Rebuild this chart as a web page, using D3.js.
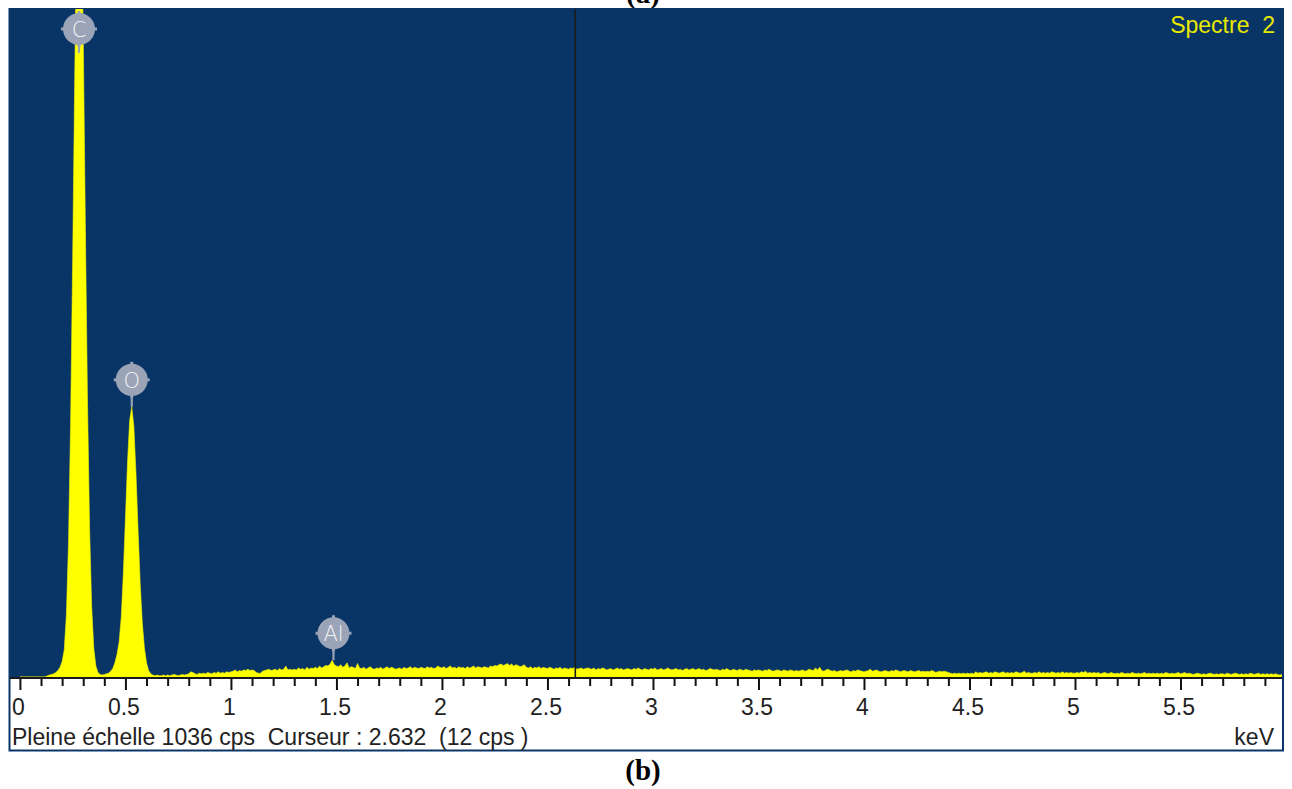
<!DOCTYPE html>
<html>
<head>
<meta charset="utf-8">
<script src="https://cdn.jsdelivr.net/npm/d3@7"></script>
<style>
  html, body { margin: 0; padding: 0; background: #ffffff; }
  svg { display: block; }
  text { white-space: pre; }
</style>
</head>
<body>
<svg id="chart" width="1292" height="789"></svg>
<script>
// EDS spectrum, 10 eV channels starting at 0 keV (counts per second)
const channelWidth = 0.01;
const counts = [
  0,0,0,0,0,0,0,0,0,0,
  0,0,0,2,3,4,5,7,10,15,
  24,42,95,205,390,650,940,1180,1290,1215,
  995,705,435,232,110,45,17,7,4,3,
  4,5,6,9,13,22,35,54,92,160,
  246,334,398,419,388,316,228,145,84,45,
  22,10,5,3,2,3,2,2,3,2,
  3,2,3,4,3,2,3,4,3,4,
  5,8,7,5,4,6,5,6,5,7,
  6,5,7,6,8,6,7,6,8,7,
  8,9,11,8,10,9,11,10,12,10,
  11,10,7,6,6,9,10,11,12,10,
  11,12,10,13,11,12,17,11,12,11,
  12,11,14,12,13,11,15,12,14,13,
  15,13,17,14,16,18,17,20,26,19,
  17,16,19,15,17,22,14,16,15,13,
  21,14,13,15,12,14,16,13,12,14,
  13,15,12,14,16,13,15,14,12,13,
  14,12,15,13,14,16,13,15,14,13,
  15,14,13,16,14,15,13,14,17,15,
  14,16,13,15,17,14,15,13,16,14,
  15,13,16,14,15,17,14,16,15,14,
  16,15,14,17,16,18,17,19,20,18,
  19,21,18,20,17,19,18,16,17,19,
  15,14,16,13,15,14,16,13,15,14,
  13,15,14,12,14,13,15,12,14,13,
  12,14,13,15,12,13,14,12,13,14,
  13,12,14,11,13,12,14,13,11,12,
  13,11,12,14,12,13,11,12,13,12,
  11,13,12,14,12,11,13,12,11,13,
  12,14,11,12,13,11,12,14,12,11,
  12,13,11,12,10,12,13,11,12,13,
  11,12,13,11,12,10,11,13,12,11,
  12,11,10,12,11,13,11,10,12,11,
  10,12,11,10,12,11,10,9,11,10,
  11,10,9,11,10,12,10,9,10,11,
  10,9,11,10,9,11,10,9,10,9,
  10,11,9,10,12,11,10,14,11,15,
  10,9,11,12,10,9,10,8,9,10,
  9,10,11,9,8,10,9,11,10,9,
  8,9,10,12,9,10,11,9,8,9,
  10,9,8,10,9,11,10,8,9,10,
  9,8,10,9,8,9,10,8,9,8,
  9,8,10,9,7,8,9,8,9,8,
  7,6,5,6,5,6,5,6,5,6,
  5,6,5,8,6,7,6,7,8,6,
  7,6,8,7,6,7,8,6,7,6,
  7,6,8,7,6,7,9,6,7,6,
  6,7,6,8,6,7,6,7,6,8,
  7,6,7,6,8,6,7,6,7,6,
  6,7,6,8,7,9,6,7,6,7,
  6,7,5,6,7,6,5,7,6,5,
  6,5,7,6,5,6,5,7,6,5,
  6,5,6,7,5,6,5,6,5,6,
  5,6,5,7,6,5,6,5,6,7,
  5,6,7,5,6,5,4,5,6,5,
  4,5,4,5,6,5,4,5,4,5,
  5,4,6,5,4,5,6,5,4,5,
  4,5,4,6,5,4,5,6,4,5,
  4,5,4,5,4,5,4,3,4
];

// Identified element lines (keV)
const elementNames = ["C", "O", "Al"];
const elementEnergies = [0.28, 0.53, 1.486];

// Axis settings
const energyMin = -0.047;
const energyMax = 5.981;
const fullScale = 1036;
const majorTicks = [0, 0.5, 1, 1.5, 2, 2.5, 3, 3.5, 4, 4.5, 5, 5.5];
const minorTicks = d3.range(0, 60).map(i => i / 10);
const cursorEnergy = 2.632;
const cursorCps = 12;

const svg = d3.select("#chart");
const plot = { left: 10, top: 9, right: 1282, bottom: 677 };
const panelBottom = 750;

const x = d3.scaleLinear().domain([energyMin, energyMax]).range([plot.left, plot.right]);
const y = d3.scaleLinear().domain([0, fullScale]).range([plot.bottom, plot.top]);

const spectrum = counts.map((c, i) => ({ e: i * channelWidth, c }));

// panel caption above (partly hidden behind the plot)
svg.append("text")
  .attr("x", 643).attr("y", 3)
  .attr("text-anchor", "middle")
  .attr("font-family", "Liberation Serif, Times New Roman, serif")
  .attr("font-weight", "bold")
  .attr("font-size", 29)
  .attr("fill", "#000")
  .text("(a)");

// white axis strip with dark-blue frame
svg.append("rect")
  .attr("x", plot.left - 0.5).attr("y", plot.top)
  .attr("width", plot.right - plot.left + 1.5)
  .attr("height", panelBottom - plot.top + 0.5)
  .attr("fill", "#ffffff")
  .attr("stroke", "#0b3468")
  .attr("stroke-width", 2);

// plot background
svg.append("rect")
  .attr("x", plot.left).attr("y", plot.top)
  .attr("width", plot.right - plot.left)
  .attr("height", plot.bottom - plot.top)
  .attr("fill", "#083566");

svg.append("clipPath").attr("id", "plotClip")
  .append("rect")
  .attr("x", plot.left).attr("y", plot.top)
  .attr("width", plot.right - plot.left)
  .attr("height", plot.bottom - plot.top);

const area = d3.area()
  .x(d => x(d.e))
  .y0(y(0))
  .y1(d => y(d.c))
  .curve(d3.curveLinear);

svg.append("path")
  .datum(spectrum)
  .attr("clip-path", "url(#plotClip)")
  .attr("d", area)
  .attr("fill", "#ffff00")
  .attr("stroke", "#f2f200")
  .attr("stroke-width", 0.6);

// cursor line
svg.append("line")
  .attr("x1", x(cursorEnergy)).attr("x2", x(cursorEnergy))
  .attr("y1", plot.top).attr("y2", plot.bottom)
  .attr("stroke", "#1a1a1a")
  .attr("stroke-width", 1.6);

// element markers
const markerColor = "#9ba4b6";
const markers = svg.append("g");
elementNames.forEach((name, i) => {
  const e = elementEnergies[i];
  const near = spectrum.filter(d => Math.abs(d.e - e) <= 0.015);
  const peak = d3.max(near, d => d.c);
  const peakY = Math.max(y(peak), plot.top);
  const cx = x(e);
  const cy = Math.max(peakY - 27, plot.top + 20);
  const g = markers.append("g").attr("transform", `translate(${cx},${cy})`);
  g.append("line")
    .attr("x1", 0).attr("x2", 0)
    .attr("y1", 12).attr("y2", Math.max(peakY - cy, 24))
    .attr("stroke", markerColor).attr("stroke-width", 2.2);
  // small nubs on the four sides
  [[0, -16.5], [0, 16.5], [-16.5, 0], [16.5, 0]].forEach(([dx, dy]) => {
    g.append("rect")
      .attr("x", dx - 1.5).attr("y", dy - 1.5)
      .attr("width", 3).attr("height", 3)
      .attr("fill", markerColor);
  });
  g.append("circle").attr("r", 16).attr("fill", markerColor);
  g.append("text")
    .attr("y", 8)
    .attr("text-anchor", "middle")
    .attr("font-family", "DejaVu Sans, Liberation Sans, sans-serif")
    .attr("font-weight", 200)
    .attr("font-size", 21)
    .attr("fill", "#f2f4f8")
    .text(name);
});

// spectrum title
svg.append("text")
  .attr("x", 1275).attr("y", 33)
  .attr("text-anchor", "end")
  .attr("font-family", "Liberation Sans, Arial, sans-serif")
  .attr("font-size", 23)
  .attr("fill", "#e8e800")
  .text("Spectre  2");

// energy axis
const axisG = svg.append("g").attr("transform", `translate(0,${plot.bottom + 1})`);
axisG.call(d3.axisBottom(x).tickValues(minorTicks).tickSize(7).tickFormat(""));
axisG.selectAll(".tick line")
  .attr("stroke", "#111").attr("stroke-width", 2)
  .attr("y2", d => (Math.abs(d * 2 - Math.round(d * 2)) < 1e-6 ? 12 : 8));
axisG.select(".domain").remove();

svg.append("line")
  .attr("x1", plot.left).attr("x2", plot.right)
  .attr("y1", plot.bottom + 1).attr("y2", plot.bottom + 1)
  .attr("stroke", "#1a1a1a").attr("stroke-width", 2);

const labelG = svg.append("g").attr("transform", `translate(0,${plot.bottom})`);
labelG.call(d3.axisBottom(x).tickValues(majorTicks).tickSize(0).tickPadding(0)
  .tickFormat(v => Number.isInteger(v) ? String(v) : v.toFixed(1)));
labelG.select(".domain").remove();
labelG.selectAll(".tick text")
  .attr("dy", 0).attr("y", 38).attr("dx", -2)
  .attr("font-family", "Liberation Sans, Arial, sans-serif")
  .attr("font-size", 23)
  .attr("fill", "#222");

// status line
svg.append("text")
  .attr("x", 12).attr("y", 745)
  .attr("font-family", "Liberation Sans, Arial, sans-serif")
  .attr("font-size", 23)
  .attr("fill", "#222")
  .text(`Pleine échelle ${fullScale} cps  Curseur : ${cursorEnergy.toFixed(3)}  (${cursorCps} cps )`);

svg.append("text")
  .attr("x", 1274).attr("y", 745)
  .attr("text-anchor", "end")
  .attr("font-family", "Liberation Sans, Arial, sans-serif")
  .attr("font-size", 23)
  .attr("fill", "#222")
  .text("keV");

// panel caption below
svg.append("text")
  .attr("x", 643).attr("y", 780)
  .attr("text-anchor", "middle")
  .attr("font-family", "Liberation Serif, Times New Roman, serif")
  .attr("font-weight", "bold")
  .attr("font-size", 29)
  .attr("fill", "#000")
  .text("(b)");
</script>
</body>
</html>
